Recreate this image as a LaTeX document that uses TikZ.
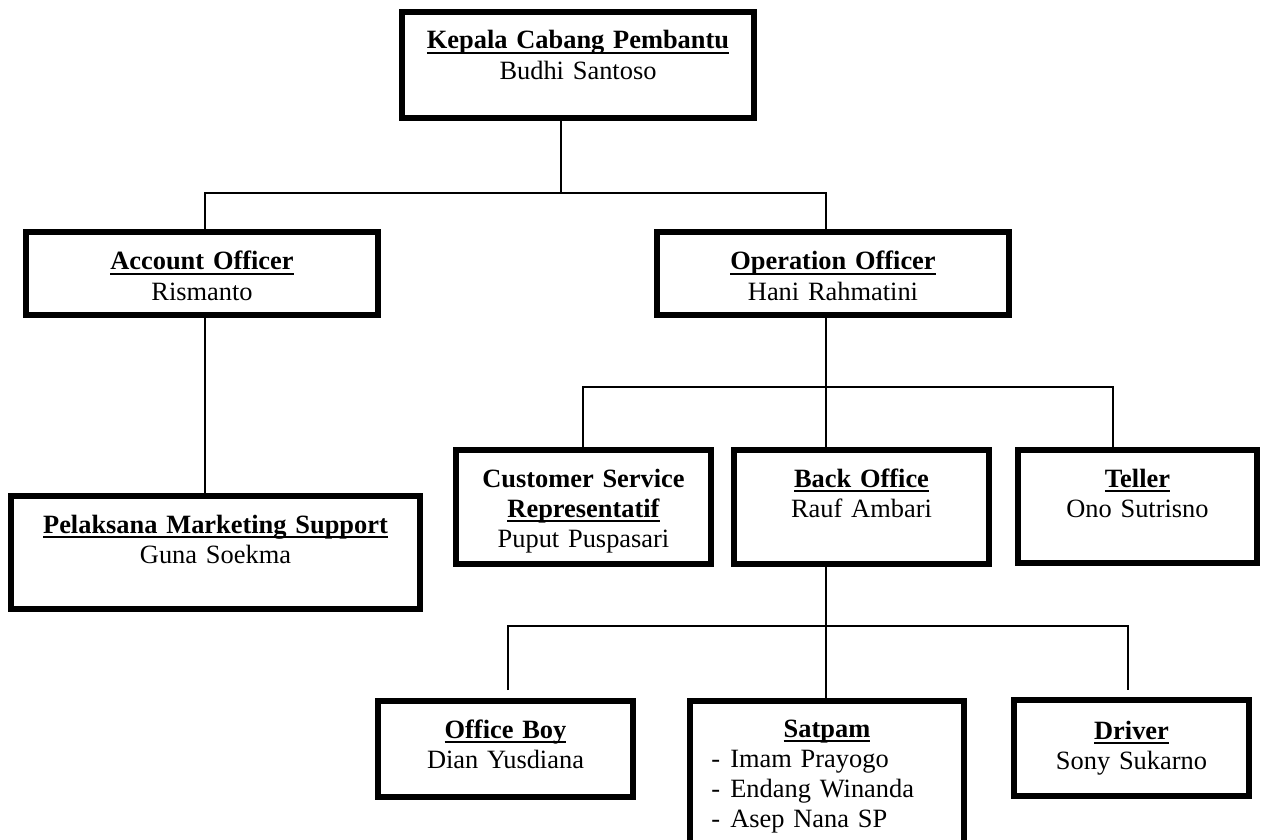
\documentclass[tikz,border=0pt]{standalone}
\usepackage{fontspec}
\setmainfont{Liberation Serif}
\newcommand{\jabul}[1]{\leavevmode\setbox0\hbox{#1}\rlap{\rule[-2.2pt]{\wd0}{0.9pt}}\box0}

\tikzset{
  box/.style 2 args={draw, line width=2.7pt, inner sep=0pt, outer sep=0pt,
    minimum width=#1*0.4545pt, minimum height=#2*0.4545pt},
  txt/.style={anchor=base, align=center, inner sep=0pt, text width=200pt,
    font=\fontsize{12pt}{13.64pt}\selectfont},
  link/.style={line width=0.65pt}
}

\begin{document}
\begin{tikzpicture}[x=0.4545pt, y=-0.4545pt]
    \useasboundingbox (0,0) rectangle (1263,840);
    \clip (0,0) rectangle (1263,840);
    \fill[white] (0,0) rectangle (1263,840);

    % boxes
    \node[box={352}{106}] (kcp) at (578,65) {};
    \node[box={352}{83}] (ao) at (202,273.5) {};
    \node[box={352}{83}] (oo) at (833,273.5) {};
    \node[box={409}{113}] (pms) at (215.5,552.5) {};
    \node[box={255}{114}] (csr) at (583.5,507) {};
    \node[box={255}{114}] (bo) at (861.5,507) {};
    \node[box={239}{113}] (tel) at (1137.5,506.5) {};
    \node[box={255}{96}] (ob) at (505.5,749) {};
    \node[box={274}{176}] (sat) at (827,789) {};
    \node[box={235}{96}] (drv) at (1131.5,748) {};

    % texts
    \node[txt] (kcpT) at (578,49) {\textbf{\jabul{Kepala Cabang Pembantu}}\\ Budhi Santoso};
    \node[txt] (aoT) at (202,270) {\textbf{\jabul{Account Officer}}\\ Rismanto};
    \node[txt] (ooT) at (833,270) {\textbf{\jabul{Operation Officer}}\\ Hani Rahmatini};
    \node[txt] (pmsT) at (215.5,533) {\textbf{\jabul{Pelaksana Marketing Support}}\\ Guna Soekma};
    \node[txt] (csrT) at (583.5,487) {\textbf{Customer Service}\\ \textbf{\jabul{Representatif}}\\ Puput Puspasari};
    \node[txt] (boT) at (861.5,487) {\textbf{\jabul{Back Office}}\\ Rauf Ambari};
    \node[txt] (telT) at (1137.5,487) {\textbf{\jabul{Teller}}\\ Ono Sutrisno};
    \node[txt] (obT) at (505.5,738) {\textbf{\jabul{Office Boy}}\\ Dian Yusdiana};
    \node[txt] (satT) at (827,737) {\textbf{\jabul{Satpam}}};
    \node[txt, anchor=base west, align=left, text width=120pt] (satL) at (711,767)
        {\makebox[8.6pt][l]{-}Imam Prayogo\\ \makebox[8.6pt][l]{-}Endang Winanda\\ \makebox[8.6pt][l]{-}Asep Nana SP};
    \node[txt] (drvT) at (1131.5,739) {\textbf{\jabul{Driver}}\\ Sony Sukarno};

    % connectors
    \coordinate (busA) at (561,193);
    \coordinate (cA) at (205,193);
    \coordinate (cB) at (826,193);
    \coordinate (cC) at (583,387);
    \coordinate (cD) at (1113,387);
    \coordinate (cE) at (508,626);
    \coordinate (cF) at (1128,626);
    \coordinate (dOB) at (508,690);
    \coordinate (dDrv) at (1128,690);
    \draw[link] (kcp.south -| busA) -- (busA);
    \draw[link] (ao.north -| cA) -- (cA) -- (cB) -- (oo.north -| cB);
    \draw[link] (ao.south -| cA) -- (pms.north -| cA);
    \draw[link] (oo.south -| cB) -- (bo.north -| cB);
    \draw[link] (csr.north -| cC) -- (cC) -- (cD) -- (tel.north -| cD);
    \draw[link] (bo.south -| cB) -- (sat.north -| cB);
    \draw[link] (dOB) -- (cE) -- (cF) -- (dDrv);
\end{tikzpicture}
\end{document}
